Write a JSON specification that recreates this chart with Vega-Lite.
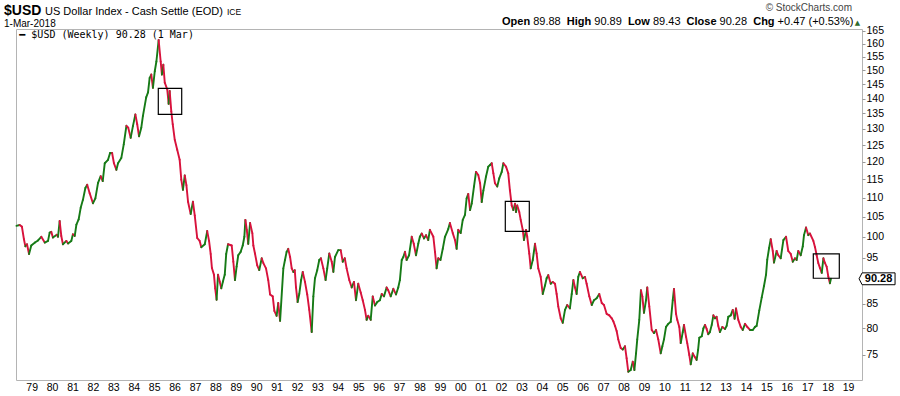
{
  "$schema": "https://vega.github.io/schema/vega-lite/v6.json",
  "width": 846,
  "height": 351,
  "autosize": {"type": "none"},
  "padding": {"left": 16, "top": 29, "right": 38, "bottom": 16},
  "background": "white",
  "config": {
    "view": {"stroke": "#b4b4b4", "strokeWidth": 1},
    "axis": {"labelFont": "Liberation Sans", "labelColor": "#000", "labelFontSize": 10.5, "domain": false, "grid": false, "title": null, "labelOverlap": false, "labelFlush": false}
  },
  "resolve": {"axis": {"x": "independent", "y": "independent"}},
  "datasets": {
    "px": [
      {"t":1978.25,"v":102.7},{"t":1978.41,"v":102.9},{"t":1978.52,"v":102.5},{"t":1978.62,"v":99.4},{"t":1978.69,"v":97.7},{"t":1978.77,"v":98.2},{"t":1978.87,"v":95.9},{"t":1978.98,"v":97.9},
      {"t":1979.16,"v":98.6},{"t":1979.31,"v":99.1},{"t":1979.47,"v":100.0},{"t":1979.64,"v":98.6},{"t":1979.80,"v":99.0},{"t":1979.88,"v":101.0},{"t":1979.96,"v":101.2},
      {"t":1980.04,"v":99.8},{"t":1980.23,"v":100.5},{"t":1980.29,"v":100.0},{"t":1980.37,"v":103.9},{"t":1980.45,"v":100.2},{"t":1980.53,"v":98.2},{"t":1980.70,"v":99.0},{"t":1980.78,"v":98.4},{"t":1980.94,"v":99.0},
      {"t":1981.02,"v":100.6},{"t":1981.11,"v":100.2},{"t":1981.19,"v":103.0},{"t":1981.30,"v":104.3},{"t":1981.40,"v":107.3},{"t":1981.51,"v":109.4},{"t":1981.63,"v":112.6},{"t":1981.72,"v":113.5},{"t":1981.84,"v":111.2},
      {"t":1982.00,"v":108.5},{"t":1982.12,"v":109.8},{"t":1982.25,"v":114.0},{"t":1982.38,"v":115.9},{"t":1982.48,"v":114.5},{"t":1982.58,"v":119.6},{"t":1982.74,"v":120.6},{"t":1982.84,"v":122.6},{"t":1982.94,"v":122.6},
      {"t":1983.03,"v":119.6},{"t":1983.15,"v":117.7},{"t":1983.23,"v":119.6},{"t":1983.39,"v":121.1},{"t":1983.51,"v":125.2},{"t":1983.64,"v":131.0},{"t":1983.73,"v":130.4},{"t":1983.85,"v":127.2},{"t":1983.96,"v":130.9},
      {"t":1984.08,"v":134.7},{"t":1984.17,"v":131.5},{"t":1984.26,"v":127.7},{"t":1984.37,"v":130.4},{"t":1984.45,"v":134.2},{"t":1984.61,"v":140.4},{"t":1984.70,"v":142.1},{"t":1984.78,"v":147.2},{"t":1984.86,"v":148.4},{"t":1984.94,"v":143.7},
      {"t":1985.03,"v":149.6},{"t":1985.11,"v":153.2},{"t":1985.22,"v":161.4},{"t":1985.32,"v":153.2},{"t":1985.38,"v":148.4},{"t":1985.45,"v":152.0},{"t":1985.52,"v":145.5},{"t":1985.64,"v":143.2},{"t":1985.71,"v":138.2},{"t":1985.76,"v":142.6},{"t":1985.84,"v":135.7},{"t":1985.91,"v":131.5},
      {"t":1986.01,"v":126.6},{"t":1986.13,"v":123.6},{"t":1986.25,"v":120.6},{"t":1986.33,"v":114.9},{"t":1986.41,"v":112.1},{"t":1986.50,"v":116.1},{"t":1986.58,"v":113.4},{"t":1986.66,"v":108.9},{"t":1986.79,"v":105.7},{"t":1986.90,"v":108.9},{"t":1986.99,"v":105.3},
      {"t":1987.11,"v":99.7},{"t":1987.23,"v":99.0},{"t":1987.31,"v":97.5},{"t":1987.48,"v":98.2},{"t":1987.60,"v":101.4},{"t":1987.69,"v":99.0},{"t":1987.77,"v":95.9},{"t":1987.83,"v":92.7},{"t":1987.93,"v":91.2},{"t":1987.99,"v":88.2},
      {"t":1988.06,"v":85.8},{"t":1988.13,"v":91.2},{"t":1988.21,"v":89.7},{"t":1988.29,"v":88.2},{"t":1988.37,"v":89.7},{"t":1988.46,"v":91.2},{"t":1988.53,"v":95.9},{"t":1988.62,"v":98.2},{"t":1988.80,"v":97.9},{"t":1988.88,"v":94.1},{"t":1988.96,"v":90.0},
      {"t":1989.04,"v":93.0},{"t":1989.12,"v":95.6},{"t":1989.24,"v":96.4},{"t":1989.34,"v":97.9},{"t":1989.42,"v":100.0},{"t":1989.47,"v":104.2},{"t":1989.54,"v":101.7},{"t":1989.61,"v":98.3},{"t":1989.70,"v":103.4},{"t":1989.81,"v":100.9},{"t":1989.86,"v":97.9},{"t":1989.94,"v":96.0},
      {"t":1990.05,"v":93.3},{"t":1990.15,"v":92.2},{"t":1990.27,"v":94.9},{"t":1990.35,"v":93.8},{"t":1990.48,"v":92.6},{"t":1990.59,"v":90.0},{"t":1990.68,"v":86.9},{"t":1990.81,"v":86.5},{"t":1990.89,"v":83.5},
      {"t":1991.00,"v":82.5},{"t":1991.08,"v":85.1},{"t":1991.17,"v":81.5},{"t":1991.33,"v":92.6},{"t":1991.41,"v":94.5},{"t":1991.49,"v":96.4},{"t":1991.57,"v":97.1},{"t":1991.66,"v":95.2},{"t":1991.74,"v":92.6},{"t":1991.82,"v":91.8},{"t":1991.89,"v":92.2},{"t":1991.95,"v":88.4},
      {"t":1992.03,"v":85.3},{"t":1992.11,"v":87.0},{"t":1992.20,"v":90.0},{"t":1992.28,"v":91.8},{"t":1992.39,"v":89.6},{"t":1992.50,"v":86.9},{"t":1992.60,"v":83.7},{"t":1992.72,"v":79.3},{"t":1992.80,"v":86.5},{"t":1992.88,"v":90.4},{"t":1992.99,"v":92.2},
      {"t":1993.09,"v":94.5},{"t":1993.17,"v":94.9},{"t":1993.29,"v":92.6},{"t":1993.40,"v":90.0},{"t":1993.48,"v":92.6},{"t":1993.58,"v":96.0},{"t":1993.70,"v":94.1},{"t":1993.78,"v":91.8},{"t":1993.86,"v":95.2},
      {"t":1994.02,"v":96.8},{"t":1994.14,"v":96.8},{"t":1994.24,"v":94.1},{"t":1994.34,"v":94.9},{"t":1994.43,"v":92.6},{"t":1994.56,"v":90.0},{"t":1994.68,"v":88.4},{"t":1994.79,"v":89.6},{"t":1994.89,"v":85.7},
      {"t":1995.00,"v":89.2},{"t":1995.12,"v":87.3},{"t":1995.22,"v":85.7},{"t":1995.33,"v":83.7},{"t":1995.41,"v":81.7},{"t":1995.49,"v":82.5},{"t":1995.61,"v":81.7},{"t":1995.71,"v":86.5},{"t":1995.82,"v":84.6},{"t":1995.93,"v":85.3},
      {"t":1996.06,"v":85.7},{"t":1996.15,"v":87.0},{"t":1996.26,"v":86.5},{"t":1996.39,"v":88.4},{"t":1996.47,"v":87.8},{"t":1996.59,"v":86.5},{"t":1996.72,"v":88.1},{"t":1996.85,"v":86.9},{"t":1996.96,"v":88.4},
      {"t":1997.04,"v":90.0},{"t":1997.13,"v":94.5},{"t":1997.21,"v":95.2},{"t":1997.29,"v":96.4},{"t":1997.37,"v":94.5},{"t":1997.49,"v":95.6},{"t":1997.62,"v":100.0},{"t":1997.72,"v":98.3},{"t":1997.83,"v":95.6},{"t":1997.94,"v":98.3},
      {"t":1998.02,"v":100.0},{"t":1998.11,"v":100.8},{"t":1998.22,"v":99.6},{"t":1998.32,"v":100.4},{"t":1998.43,"v":99.2},{"t":1998.51,"v":101.7},{"t":1998.68,"v":100.0},{"t":1998.76,"v":96.4},{"t":1998.84,"v":92.6},{"t":1998.92,"v":94.9},
      {"t":1999.03,"v":94.5},{"t":1999.14,"v":97.1},{"t":1999.25,"v":100.0},{"t":1999.41,"v":101.9},{"t":1999.49,"v":103.4},{"t":1999.63,"v":100.9},{"t":1999.74,"v":99.2},{"t":1999.82,"v":97.1},{"t":1999.90,"v":101.7},
      {"t":2000.02,"v":100.9},{"t":2000.12,"v":104.2},{"t":2000.23,"v":105.5},{"t":2000.31,"v":109.8},{"t":2000.39,"v":111.0},{"t":2000.48,"v":106.7},{"t":2000.56,"v":108.4},{"t":2000.67,"v":113.0},{"t":2000.77,"v":117.1},{"t":2000.88,"v":116.2},{"t":2000.97,"v":113.9},
      {"t":2001.05,"v":108.8},{"t":2001.13,"v":111.9},{"t":2001.26,"v":115.8},{"t":2001.37,"v":118.6},{"t":2001.46,"v":119.1},{"t":2001.54,"v":119.6},{"t":2001.62,"v":116.7},{"t":2001.70,"v":113.9},{"t":2001.81,"v":113.0},{"t":2001.91,"v":115.3},
      {"t":2002.03,"v":117.1},{"t":2002.11,"v":119.6},{"t":2002.24,"v":118.6},{"t":2002.35,"v":116.7},{"t":2002.43,"v":112.0},{"t":2002.52,"v":107.9},{"t":2002.60,"v":106.7},{"t":2002.68,"v":108.4},{"t":2002.73,"v":106.2},{"t":2002.79,"v":107.9},{"t":2002.89,"v":106.2},{"t":2002.96,"v":104.2},
      {"t":2003.06,"v":101.7},{"t":2003.12,"v":99.2},{"t":2003.22,"v":101.7},{"t":2003.28,"v":100.0},{"t":2003.38,"v":96.0},{"t":2003.45,"v":92.6},{"t":2003.55,"v":94.5},{"t":2003.66,"v":98.3},{"t":2003.74,"v":96.0},{"t":2003.82,"v":92.6},{"t":2003.94,"v":90.7},
      {"t":2004.04,"v":87.0},{"t":2004.15,"v":88.8},{"t":2004.23,"v":90.4},{"t":2004.31,"v":91.1},{"t":2004.43,"v":89.2},{"t":2004.53,"v":89.6},{"t":2004.64,"v":89.2},{"t":2004.72,"v":87.0},{"t":2004.80,"v":84.4},{"t":2004.92,"v":82.0},
      {"t":2005.02,"v":81.1},{"t":2005.13,"v":83.7},{"t":2005.24,"v":84.7},{"t":2005.37,"v":84.0},{"t":2005.46,"v":87.0},{"t":2005.54,"v":90.0},{"t":2005.62,"v":88.4},{"t":2005.70,"v":87.0},{"t":2005.78,"v":90.7},{"t":2005.86,"v":91.8},
      {"t":2006.00,"v":90.4},{"t":2006.11,"v":90.7},{"t":2006.19,"v":89.2},{"t":2006.32,"v":86.5},{"t":2006.44,"v":84.7},{"t":2006.55,"v":85.7},{"t":2006.68,"v":86.1},{"t":2006.81,"v":87.0},{"t":2006.93,"v":85.1},
      {"t":2007.04,"v":84.7},{"t":2007.17,"v":82.9},{"t":2007.30,"v":82.6},{"t":2007.42,"v":82.0},{"t":2007.50,"v":81.4},{"t":2007.58,"v":80.5},{"t":2007.66,"v":79.5},{"t":2007.74,"v":77.9},{"t":2007.86,"v":76.3},{"t":2007.96,"v":76.0},
      {"t":2008.07,"v":76.6},{"t":2008.15,"v":74.4},{"t":2008.23,"v":72.0},{"t":2008.35,"v":72.3},{"t":2008.45,"v":73.8},{"t":2008.53,"v":72.3},{"t":2008.61,"v":75.3},{"t":2008.67,"v":77.9},{"t":2008.77,"v":81.7},{"t":2008.85,"v":87.8},{"t":2008.92,"v":86.5},
      {"t":2009.00,"v":83.1},{"t":2009.10,"v":85.7},{"t":2009.16,"v":88.4},{"t":2009.26,"v":84.4},{"t":2009.38,"v":79.7},{"t":2009.49,"v":79.1},{"t":2009.59,"v":79.7},{"t":2009.70,"v":77.9},{"t":2009.82,"v":75.3},{"t":2009.90,"v":76.6},{"t":2009.98,"v":77.9},
      {"t":2010.08,"v":80.3},{"t":2010.19,"v":80.9},{"t":2010.31,"v":81.3},{"t":2010.41,"v":85.7},{"t":2010.47,"v":88.1},{"t":2010.57,"v":82.9},{"t":2010.63,"v":81.7},{"t":2010.73,"v":80.3},{"t":2010.80,"v":77.2},{"t":2010.90,"v":79.3},{"t":2010.96,"v":80.7},
      {"t":2011.06,"v":78.4},{"t":2011.12,"v":77.2},{"t":2011.22,"v":75.0},{"t":2011.29,"v":73.3},{"t":2011.39,"v":75.3},{"t":2011.48,"v":74.7},{"t":2011.58,"v":74.1},{"t":2011.65,"v":75.9},{"t":2011.71,"v":78.2},{"t":2011.83,"v":78.5},{"t":2011.91,"v":80.0},{"t":2011.99,"v":80.7},
      {"t":2012.07,"v":79.9},{"t":2012.15,"v":78.9},{"t":2012.23,"v":79.3},{"t":2012.32,"v":80.7},{"t":2012.40,"v":82.6},{"t":2012.48,"v":82.0},{"t":2012.56,"v":82.3},{"t":2012.64,"v":80.5},{"t":2012.72,"v":79.3},{"t":2012.84,"v":80.3},{"t":2012.97,"v":79.9},
      {"t":2013.05,"v":80.5},{"t":2013.13,"v":82.3},{"t":2013.25,"v":82.6},{"t":2013.35,"v":83.7},{"t":2013.44,"v":81.9},{"t":2013.51,"v":84.0},{"t":2013.62,"v":81.7},{"t":2013.74,"v":80.3},{"t":2013.84,"v":79.7},{"t":2013.95,"v":80.9},
      {"t":2014.06,"v":80.3},{"t":2014.20,"v":79.7},{"t":2014.33,"v":79.7},{"t":2014.44,"v":80.3},{"t":2014.52,"v":80.5},{"t":2014.65,"v":83.6},{"t":2014.77,"v":86.3},{"t":2014.88,"v":88.7},{"t":2014.98,"v":91.2},
      {"t":2015.04,"v":94.6},{"t":2015.13,"v":97.3},{"t":2015.21,"v":99.4},{"t":2015.31,"v":96.6},{"t":2015.37,"v":93.9},{"t":2015.50,"v":96.6},{"t":2015.58,"v":95.6},{"t":2015.70,"v":94.9},{"t":2015.83,"v":99.2},{"t":2015.96,"v":100.0},
      {"t":2016.07,"v":96.6},{"t":2016.19,"v":95.9},{"t":2016.29,"v":94.1},{"t":2016.40,"v":94.9},{"t":2016.48,"v":94.5},{"t":2016.56,"v":96.6},{"t":2016.68,"v":95.6},{"t":2016.78,"v":97.7},{"t":2016.84,"v":100.4},{"t":2016.94,"v":102.3},
      {"t":2017.05,"v":100.4},{"t":2017.13,"v":100.8},{"t":2017.30,"v":99.0},{"t":2017.38,"v":97.5},{"t":2017.46,"v":95.6},{"t":2017.54,"v":93.8},{"t":2017.62,"v":92.7},{"t":2017.71,"v":91.6},{"t":2017.79,"v":94.9},{"t":2017.87,"v":93.8},{"t":2017.95,"v":93.0},
      {"t":2018.03,"v":90.8},{"t":2018.11,"v":89.3},{"t":2018.16,"v":90.28}
    ],
    "boxes": [
      {"t1":1985.203,"t2":1986.350,"v1":143.5,"v2":134.7},
      {"t1":2002.205,"t2":2003.381,"v1":109.0,"v2":101.3},
      {"t1":2017.296,"t2":2018.570,"v1":95.9,"v2":90.4}
    ],
    "notes": [
      {"k":"h1","t":1977.643,"v":171.5,"s":"$USD"},
      {"k":"h2","t":1979.652,"v":171.5,"s":"US Dollar Index - Cash Settle (EOD)"},
      {"k":"h3","t":1988.569,"v":171.5,"s":"ICE"},
      {"k":"h4","t":1977.643,"v":166.8,"s":"1-Mar-2018"},
      {"k":"lg","t":1978.393,"v":163.5,"s":"━ $USD (Weekly) 90.28 (1 Mar)"},
      {"k":"sc","t":2019.19,"v":173.2,"s":"© StockCharts.com"},
      {"k":"ob","t":2002.043,"v":167.4,"s":"Open"},
      {"k":"on","t":2003.572,"v":167.4,"s":"89.88"},
      {"k":"ob","t":2005.218,"v":167.4,"s":"High"},
      {"k":"on","t":2006.565,"v":167.4,"s":"90.89"},
      {"k":"ob","t":2008.211,"v":167.4,"s":"Low"},
      {"k":"on","t":2009.441,"v":167.4,"s":"89.43"},
      {"k":"ob","t":2011.087,"v":167.4,"s":"Close"},
      {"k":"on","t":2012.704,"v":167.4,"s":"90.28"},
      {"k":"ob","t":2014.351,"v":167.4,"s":"Chg"},
      {"k":"on","t":2015.546,"v":167.4,"s":"+0.47 (+0.53%)"},
      {"k":"tri","t":2019.461,"v":167.6,"s":"▲"},
      {"k":"tag","t":2020.42,"v":90.28,"s":"90.28"}
    ]
  },
  "layer": [
    {
      "data": {"name": "px"},
      "transform": [
        {"window": [{"op": "lag", "field": "v", "as": "pv"}, {"op": "lag", "field": "t", "as": "pt"}], "sort": [{"field": "t", "order": "ascending"}]},
        {"filter": "isValid(datum.pv)"}
      ],
      "mark": {"type": "rule", "strokeWidth": 1.9, "strokeCap": "round"},
      "encoding": {
        "x": {"field": "pt", "type": "quantitative", "title": null, "scale": {"domain": [1978.231, 2019.682], "nice": false, "zero": false},
          "axis": {"values": [1979,1980,1981,1982,1983,1984,1985,1986,1987,1988,1989,1990,1991,1992,1993,1994,1995,1996,1997,1998,1999,2000,2001,2002,2003,2004,2005,2006,2007,2008,2009,2010,2011,2012,2013,2014,2015,2016,2017,2018,2019],
            "labelExpr": "substring(format(datum.value, 'd'), 2)", "ticks": false, "tickSize": 0, "labelPadding": 2, "labelFlush": false, "labelOverlap": false, "labelSeparation": 0, "labelBound": false, "title": null}},
        "x2": {"field": "t"},
        "y": {"field": "pv", "type": "quantitative", "title": null, "scale": {"type": "log", "domain": [70.57, 165.8], "nice": false, "zero": false},
          "axis": {"orient": "right", "values": [75,80,85,95,100,105,110,115,120,125,130,135,140,145,150,155,160,165], "tickSize": 3, "tickColor": "#999", "labelPadding": 1, "labelAlign": "left", "labelFlush": false, "labelOverlap": false, "title": null}},
        "y2": {"field": "v"},
        "color": {"condition": {"test": "datum.v >= datum.pv", "value": "#167a16"}, "value": "#d8123c"}
      }
    },
    {
      "data": {"name": "boxes"},
      "mark": {"type": "rect", "filled": false, "color": "#000", "strokeWidth": 1.2},
      "encoding": {
        "x": {"field": "t1", "type": "quantitative", "axis": null},
        "x2": {"field": "t2"},
        "y": {"field": "v1", "type": "quantitative", "axis": null},
        "y2": {"field": "v2"}
      }
    },
    {
      "data": {"name": "notes"},
      "transform": [{"filter": "datum.k == 'h1'"}],
      "mark": {"type": "text", "font": "Liberation Sans", "fontSize": 14, "fontWeight": "bold", "align": "left", "baseline": "alphabetic", "color": "#000"},
      "encoding": {"x": {"field": "t", "type": "quantitative", "axis": null}, "y": {"field": "v", "type": "quantitative", "axis": null}, "text": {"field": "s"}}
    },
    {
      "data": {"name": "notes"},
      "transform": [{"filter": "datum.k == 'h2' || datum.k == 'on'"}],
      "mark": {"type": "text", "font": "Liberation Sans", "fontSize": 11, "align": "left", "baseline": "alphabetic", "color": "#000"},
      "encoding": {"x": {"field": "t", "type": "quantitative", "axis": null}, "y": {"field": "v", "type": "quantitative", "axis": null}, "text": {"field": "s"}}
    },
    {
      "data": {"name": "notes"},
      "transform": [{"filter": "datum.k == 'ob'"}],
      "mark": {"type": "text", "font": "Liberation Sans", "fontSize": 11, "fontWeight": "bold", "align": "left", "baseline": "alphabetic", "color": "#000"},
      "encoding": {"x": {"field": "t", "type": "quantitative", "axis": null}, "y": {"field": "v", "type": "quantitative", "axis": null}, "text": {"field": "s"}}
    },
    {
      "data": {"name": "notes"},
      "transform": [{"filter": "datum.k == 'h3'"}],
      "mark": {"type": "text", "font": "Liberation Sans", "fontSize": 8.5, "align": "left", "baseline": "alphabetic", "color": "#000"},
      "encoding": {"x": {"field": "t", "type": "quantitative", "axis": null}, "y": {"field": "v", "type": "quantitative", "axis": null}, "text": {"field": "s"}}
    },
    {
      "data": {"name": "notes"},
      "transform": [{"filter": "datum.k == 'h4'"}],
      "mark": {"type": "text", "font": "Liberation Sans", "fontSize": 10, "align": "left", "baseline": "alphabetic", "color": "#000"},
      "encoding": {"x": {"field": "t", "type": "quantitative", "axis": null}, "y": {"field": "v", "type": "quantitative", "axis": null}, "text": {"field": "s"}}
    },
    {
      "data": {"name": "notes"},
      "transform": [{"filter": "datum.k == 'lg'"}],
      "mark": {"type": "text", "font": "DejaVu Sans Mono", "fontSize": 10, "align": "left", "baseline": "middle", "color": "#000"},
      "encoding": {"x": {"field": "t", "type": "quantitative", "axis": null}, "y": {"field": "v", "type": "quantitative", "axis": null}, "text": {"field": "s"}}
    },
    {
      "data": {"name": "notes"},
      "transform": [{"filter": "datum.k == 'sc'"}],
      "mark": {"type": "text", "font": "Liberation Sans", "fontSize": 10, "align": "right", "baseline": "alphabetic", "color": "#444"},
      "encoding": {"x": {"field": "t", "type": "quantitative", "axis": null}, "y": {"field": "v", "type": "quantitative", "axis": null}, "text": {"field": "s"}}
    },
    {
      "data": {"name": "notes"},
      "transform": [{"filter": "datum.k == 'tri'"}],
      "mark": {"type": "text", "font": "DejaVu Sans", "fontSize": 7, "align": "center", "baseline": "alphabetic", "color": "#2e6b2e"},
      "encoding": {"x": {"field": "t", "type": "quantitative", "axis": null}, "y": {"field": "v", "type": "quantitative", "axis": null}, "text": {"field": "s"}}
    },
    {
      "data": {"name": "notes"},
      "transform": [{"filter": "datum.k == 'tag'"}],
      "mark": {"type": "point", "shape": "M -1 0 L -0.83 -0.33 L 1 -0.33 L 1 0.33 L -0.83 0.33 Z", "size": 1296, "filled": true, "fill": "#fff", "stroke": "#000", "strokeWidth": 1, "opacity": 1},
      "encoding": {"x": {"field": "t", "type": "quantitative", "axis": null}, "y": {"field": "v", "type": "quantitative", "axis": null}}
    },
    {
      "data": {"name": "notes"},
      "transform": [{"filter": "datum.k == 'tag'"}],
      "mark": {"type": "text", "font": "Liberation Sans", "fontSize": 11, "fontWeight": "bold", "align": "center", "baseline": "middle", "dx": 1.5, "color": "#000"},
      "encoding": {"x": {"field": "t", "type": "quantitative", "axis": null}, "y": {"field": "v", "type": "quantitative", "axis": null}, "text": {"field": "s"}}
    }
  ]
}
